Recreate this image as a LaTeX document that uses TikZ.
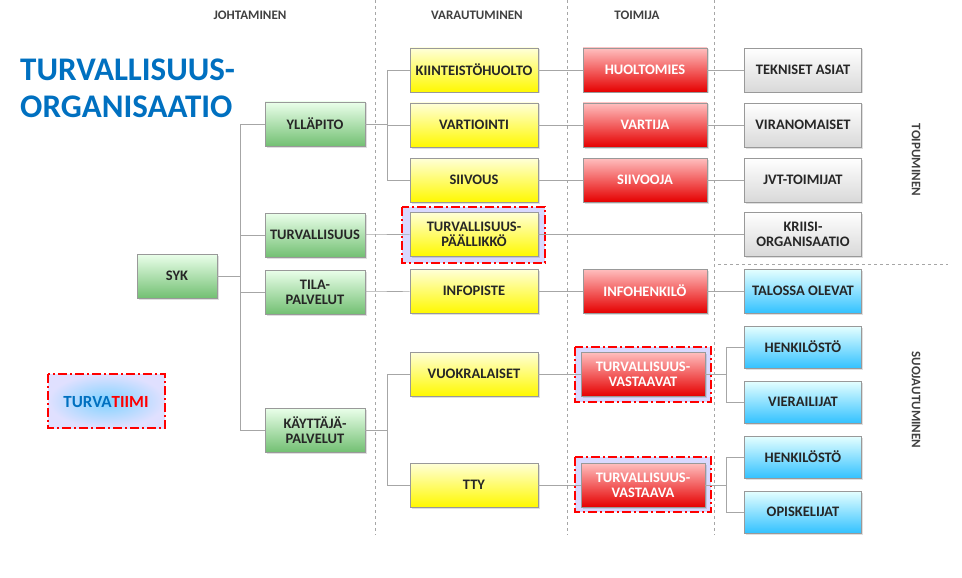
\documentclass[tikz,border=0pt]{standalone}
\usepackage{fontspec}
\setmainfont{Carlito}
\usetikzlibrary{shadows}
\definecolor{tblue}{RGB}{0,112,192}
\begin{document}
\begin{tikzpicture}[x=1pt,y=-1pt,
  bx/.style={draw=gray!80,line width=0.8pt,minimum height=44pt,align=center,font=\bfseries\fontsize{14.5}{15}\selectfont,text=black!85,drop shadow={opacity=0.25,shadow xshift=1.5pt,shadow yshift=-1.5pt},inner sep=1pt},
  gr/.style={bx,minimum width=100pt,top color=green!8!white,bottom color=green!55!black!55!white},
  ye/.style={bx,minimum width=128pt,top color=yellow!15!white,bottom color=yellow!95!orange},
  rd/.style={bx,minimum width=124pt,top color=red!25!white,bottom color=red!90!black,text=white},
  gy/.style={bx,minimum width=117pt,top color=white,bottom color=gray!30},
  bl/.style={bx,minimum width=117pt,top color=cyan!10!white,bottom color=cyan!70!blue!80,text=black!85},
  ln/.style={draw=gray!70,line width=0.6pt},
  sep/.style={draw=gray!70,dashed,line width=0.5pt},
  frm/.style={draw=red,line width=2.2pt,dash pattern=on 9pt off 3pt on 2pt off 3pt},
  hd/.style={font=\bfseries\fontsize{13}{15}\selectfont,text=black!75}]
\useasboundingbox (0,0) rectangle (962,578);
\draw[sep] (375,0) -- (375,535);
\draw[sep] (567,0) -- (567,535);
\draw[sep] (714,0) -- (714,535);
\draw[sep] (718,264) -- (948,264);
\node[hd] (h1) at (250,15) {JOHTAMINEN};
\node[hd] (h2) at (477,15) {VARAUTUMINEN};
\node[hd] (h3) at (637,15) {TOIMIJA};
\node[hd,rotate=-90] (h4) at (916,160) {TOIPUMINEN};
\node[hd,rotate=-90] (h5) at (916,400) {SUOJAUTUMINEN};
\node[font=\bfseries\fontsize{33}{37}\selectfont,text=tblue,align=left,anchor=west,inner sep=0pt] (title) at (20,88) {TURVALLISUUS-\\ORGANISAATIO};
% frames
\fill[blue!15] (402,207) rectangle (545,263);
\draw[frm] (402,207) rectangle (545,263);
\foreach \y in {347,457}{\fill[blue!15] (575,\y) rectangle (711,\y+55);\draw[frm] (575,\y) rectangle (711,\y+55);}
\shade[inner color=blue!35!cyan!50, outer color=blue!12] (48,374) rectangle (165,428);
\draw[frm] (48,374) rectangle (165,428);
\node[font=\bfseries\fontsize{17}{19}\selectfont] (tt) at (106,402) {\textcolor{tblue}{TURVA}\textcolor{red}{TIIMI}};
% nodes
\node[gr,minimum width=80pt] (syk) at (177,276) {SYK};
\node[gr] (yl) at (315,124) {YLLÄPITO};
\node[gr] (tu) at (315,235) {TURVALLISUUS};
\node[gr] (ti) at (315,292) {TILA-\\PALVELUT};
\node[gr] (ka) at (315,430) {KÄYTTÄJÄ-\\PALVELUT};
\node[ye] (ki) at (474,70) {KIINTEISTÖHUOLTO};
\node[ye] (va) at (474,125) {VARTIOINTI};
\node[ye] (si) at (474,180) {SIIVOUS};
\node[ye] (tp) at (474,234) {TURVALLISUUS-\\PÄÄLLIKKÖ};
\node[ye] (in) at (474,291) {INFOPISTE};
\node[ye] (vu) at (474,374) {VUOKRALAISET};
\node[ye] (tty) at (474,485) {TTY};
\node[rd] (hu) at (645,70) {HUOLTOMIES};
\node[rd] (vr) at (645,125) {VARTIJA};
\node[rd] (sj) at (645,180) {SIIVOOJA};
\node[rd] (ih) at (645,291) {INFOHENKILÖ};
\node[rd] (tvs) at (643,374) {TURVALLISUUS-\\VASTAAVAT};
\node[rd] (tv) at (643,485) {TURVALLISUUS-\\VASTAAVA};
\node[gy] (te) at (803,70) {TEKNISET ASIAT};
\node[gy] (vi) at (803,125) {VIRANOMAISET};
\node[gy] (jv) at (803,180) {JVT-TOIMIJAT};
\node[gy] (kr) at (803,234) {KRIISI-\\ORGANISAATIO};
\node[bl] (ta) at (803,291) {TALOSSA OLEVAT};
\node[bl,minimum height=42pt] (he1) at (803,347) {HENKILÖSTÖ};
\node[bl,minimum height=42pt] (vie) at (803,402) {VIERAILIJAT};
\node[bl,minimum height=42pt] (he2) at (803,457) {HENKILÖSTÖ};
\node[bl,minimum height=42pt] (op) at (803,512) {OPISKELIJAT};
% connectors
\draw[ln] (syk.east) -- (240,276);
\coordinate (c1) at (240,124); \coordinate (c2) at (240,430);
\draw[ln] (c1) -- (c2);
\foreach \n in {yl,tu,ti,ka} \draw[ln] (240,0 |- \n.west) -- (\n.west);
\coordinate (d1) at (387,70); \coordinate (d2) at (387,180);
\draw[ln] (yl.east) -- (387,124); \draw[ln] (d1) -- (d2);
\foreach \n in {ki,va,si} \draw[ln] (387,0 |- \n.west) -- (\n.west);
\draw[ln] (ka.east) -- (387,430); \draw[ln] (387,374) -- (387,485);
\draw[ln] (387,374) -- (vu.west); \draw[ln] (387,485) -- (tty.west);
\draw[ln] (tu) -- (tp); \draw[ln] (ti) -- (in);
\draw[ln] (ki) -- (hu); \draw[ln] (va) -- (vr); \draw[ln] (si) -- (sj); \draw[ln] (in) -- (ih);
\draw[ln] (vu) -- (tvs); \draw[ln] (tty) -- (tv);
\draw[ln] (hu) -- (te); \draw[ln] (vr) -- (vi); \draw[ln] (sj) -- (jv); \draw[ln] (ih) -- (ta);
\draw[ln] (tp.east) -- (kr.west);
\draw[ln] (tvs.east) -- (726,374); \draw[ln] (726,347) -- (726,402);
\draw[ln] (726,347) -- (he1.west); \draw[ln] (726,402) -- (vie.west);
\draw[ln] (tv.east) -- (726,485); \draw[ln] (726,457) -- (726,512);
\draw[ln] (726,457) -- (he2.west); \draw[ln] (726,512) -- (op.west);
\end{tikzpicture}
\end{document}
